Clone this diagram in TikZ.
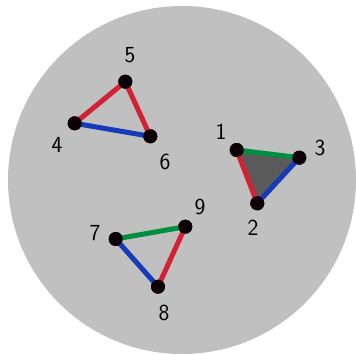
\documentclass[tikz,border=0pt]{standalone}
\definecolor{bg}{RGB}{192,192,192}
\definecolor{ered}{RGB}{212,32,52}
\definecolor{eblue}{RGB}{22,58,184}
\definecolor{egreen}{RGB}{0,142,64}
\definecolor{tri}{RGB}{90,90,90}
\definecolor{dotc}{RGB}{12,0,4}
\begin{document}
\begin{tikzpicture}[x=1pt,y=-1pt,
  vtx/.style={circle,fill=dotc,inner sep=0pt,minimum size=14pt},
  lbl/.style={font=\fontsize{23}{27}\selectfont\sffamily,inner sep=0pt},
  edge/.style={line width=5pt}]
\useasboundingbox (0,0) rectangle (356,355);
\fill[bg] (182,180) circle (174);
\coordinate (c1) at (236.7,150);
\coordinate (c2) at (257.3,203.3);
\coordinate (c3) at (299.3,157.7);
\fill[tri] (c1) -- (c2) -- (c3) -- cycle;
\node[vtx] (n1) at (c1) {};
\node[vtx] (n2) at (c2) {};
\node[vtx] (n3) at (c3) {};
\node[vtx] (n4) at (74.7,123.3) {};
\node[vtx] (n5) at (125.3,81.7) {};
\node[vtx] (n6) at (150.3,136.3) {};
\node[vtx] (n7) at (115.7,239) {};
\node[vtx] (n8) at (158,286.7) {};
\node[vtx] (n9) at (185.3,226.7) {};
\draw[edge,ered] (n1.center) -- (n2.center);
\draw[edge,eblue] (n2.center) -- (n3.center);
\draw[edge,egreen] (n1.center) -- (n3.center);
\draw[edge,ered] (n4.center) -- (n5.center);
\draw[edge,ered] (n5.center) -- (n6.center);
\draw[edge,eblue] (n4.center) -- (n6.center);
\draw[edge,egreen] (n7.center) -- (n9.center);
\draw[edge,ered] (n9.center) -- (n8.center);
\draw[edge,eblue] (n7.center) -- (n8.center);
\foreach \n in {1,...,9} {\fill[dotc] (n\n.center) circle (7);}
\node[lbl] (l1) at (221,132) {1};
\node[lbl] (l2) at (253,228) {2};
\node[lbl] (l3) at (320,148) {3};
\node[lbl] (l4) at (57,145) {4};
\node[lbl] (l5) at (130,55) {5};
\node[lbl] (l6) at (165,162) {6};
\node[lbl] (l7) at (95,233) {7};
\node[lbl] (l8) at (164,313) {8};
\node[lbl] (l9) at (200,207) {9};
\end{tikzpicture}
\end{document}
